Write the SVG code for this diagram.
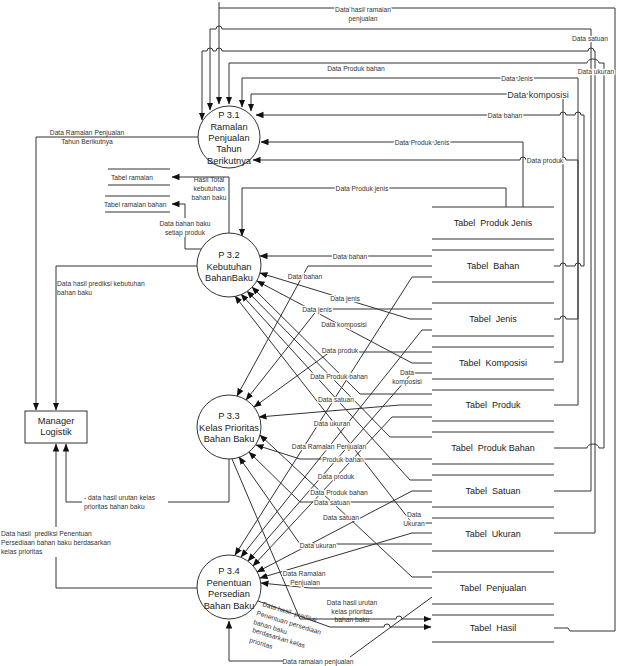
<svg xmlns="http://www.w3.org/2000/svg" width="624" height="666" viewBox="0 0 624 666">
<defs>
<marker id="ar" markerWidth="8" markerHeight="8" refX="7.5" refY="4" orient="auto" markerUnits="userSpaceOnUse"><path d="M0,0.8 L8,4 L0,7.2 z" fill="#111"/></marker>
</defs>
<style>
.l{fill:none;stroke:#333;stroke-width:1}
.a{marker-end:url(#ar)}
.t{font-family:"Liberation Sans",Arial,sans-serif;font-size:6.7px;fill:#333;text-anchor:middle}
.s{text-anchor:start}
.h{stroke:#fff;stroke-width:2.5;paint-order:stroke;stroke-linejoin:round}
.p{font-family:"Liberation Sans",Arial,sans-serif;font-size:9.3px;fill:#222;text-anchor:middle}
.tb{font-family:"Liberation Sans",Arial,sans-serif;font-size:9px;fill:#222;text-anchor:middle;white-space:pre}
.c{fill:#fff;stroke:#333;stroke-width:1}
.st{fill:none;stroke:#333;stroke-width:1}
</style>
<rect width="624" height="666" fill="#fff"/>
<g id="connectors">
<path class="l" d="M219,2 V8"/>
<path class="l a" d="M554,628 H568 L570,631 H615 V8 H219 V104"/>
<path class="l a" d="M554,491 H591 V29 H222 A3,3 0 0 0 216,29 H210 V110"/>
<path class="l a" d="M554,533 H595 V51 H594 A3,3 0 0 0 588,51 H222 A3,3 0 0 0 216,51 H213 A3,3 0 0 0 207,51 H202 V120"/>
<path class="l a" d="M554,448 H587 A6,4 0 0 1 599,448 H604 V63 H599 A6,4 0 0 0 587,63 H229 V104"/>
<path class="l a" d="M554,319 H560 A3,3 0 0 1 566,319 H578 V78 H242 V107"/>
<path class="l a" d="M554,405 H578 V160 H566 A3,3 0 0 0 560,160 H526 A3,3 0 0 0 520,160 H253"/>
<path class="l a" d="M554,362 H563 V94 H251 V111"/>
<path class="l a" d="M554,266 H560 A3,3 0 0 1 566,266 H575 A3,3 0 0 1 581,266 H584 V115 H581 A3,3 0 0 0 575,115 H566 A3,3 0 0 0 560,115 H256"/>
<path class="l a" d="M523,207 V142 H261"/>
<path class="l a" d="M506,207 V188 H242 V236"/>
<path class="l a" d="M198,137 H36 V410"/>
<path class="l a" d="M197,266 H56 V410"/>
<path class="l" d="M229,459 V502 H168"/>
<path class="l a" d="M82,502 H66 V444"/>
<path class="l" d="M197,588 H56 V557"/>
<path class="l a" d="M56,527 V444"/>
<path class="l a" d="M229,233 V177 H172"/>
<path class="l" d="M201,249 H185 V237"/>
<path class="l a" d="M185,218 V204 H172"/>
<path class="l a" d="M432,256 H260"/>
<path class="l a" d="M432,319 H410 L260,273"/>
<path class="l a" d="M432,363 H412 L257,281"/>
<path class="l a" d="M432,394 H360 L252,287"/>
<path class="l a" d="M432,437 H390 L247,291"/>
<path class="l a" d="M432,480 H410 L241,294"/>
<path class="l a" d="M432,523 H412 L235,296"/>
<path class="l a" d="M432,266 H308 L237,396"/>
<path class="l a" d="M432,309 H318 L246,400"/>
<path class="l a" d="M432,352 H330 L254,407"/>
<path class="l a" d="M432,405 H400 L259,417"/>
<path class="l a" d="M432,577 H412 L260,435"/>
<path class="l a" d="M432,459 H300 L256,445"/>
<path class="l a" d="M432,502 H300 L249,452"/>
<path class="l a" d="M432,544 H300 L239,457"/>
<path class="l a" d="M432,277 H412 L235,555"/>
<path class="l a" d="M432,330 H422 L241,557"/>
<path class="l a" d="M432,373 H412 L248,561"/>
<path class="l a" d="M432,417 H392 L253,566"/>
<path class="l a" d="M432,491 H412 L257,572"/>
<path class="l a" d="M432,533 H412 L260,578"/>
<path class="l a" d="M432,588 H310 L261,583"/>
<path class="l" d="M432,597 L350,657"/>
<path class="l a" d="M283,661 H229 V621"/>
<path class="l a" d="M232,459 L300,619 H396 A3,3 0 0 1 402,619 H431"/>
<path class="l a" d="M258,601 L330,627 H384 A3,3 0 0 1 390,627 H431"/>
</g>
<g id="connector-labels">
<text class="t h" x="363" y="11.5">Data hasil ramalan</text>
<text class="t" x="363" y="20.5">penjualan</text>
<text class="t h" x="590" y="40.5">Data satuan</text>
<text class="t" x="356" y="70.5">Data Produk bahan</text>
<text class="t h" x="596" y="73.5">Data ukuran</text>
<text class="t h" x="517" y="80.5">Data Jenis</text>
<text class="t h" x="538" y="97.5" style="font-size:9px">Data komposisi</text>
<text class="t h" x="505" y="117.5">Data bahan</text>
<text class="t h" x="422" y="144.5">Data Produk Jenis</text>
<text class="t h" x="545" y="162.5">Data produk</text>
<text class="t h" x="362" y="190.5">Data Produk jenis</text>
<text class="t" x="87" y="135">Data Ramalan Penjualan</text>
<text class="t" x="87" y="144">Tahun Berikutnya</text>
<text class="t" x="209" y="181.5">Hasil Total</text>
<text class="t" x="209" y="190.5">kebutuhan</text>
<text class="t" x="209" y="199.5">bahan baku</text>
<text class="t" x="185" y="225.5">Data bahan baku</text>
<text class="t" x="185" y="234.5">setiap produk</text>
<text class="t s" x="57" y="285.5">Data hasil prediksi kebutuhan</text>
<text class="t s" x="57" y="294.5">bahan baku</text>
<text class="t s" x="84" y="499.5">- data hasil urutan kelas</text>
<text class="t s" x="84" y="508.5">prioritas bahan baku</text>
<text class="t s" x="1" y="535.5" style="white-space:pre">Data hasil  prediksi Penentuan</text>
<text class="t s" x="1" y="544.5">Persediaan bahan baku berdasarkan</text>
<text class="t s" x="1" y="553.5">kelas prioritas</text>
<text class="t h" x="350" y="258.5">Data bahan</text>
<text class="t h" x="305" y="278.5">Data bahan</text>
<text class="t h" x="345" y="300.5">Data jenis</text>
<text class="t h" x="317" y="311.5">Data jenis</text>
<text class="t h" x="344" y="326.5">Data komposisi</text>
<text class="t h" x="340" y="352.5">Data produk</text>
<text class="t h" x="339" y="378.5">Data Produk bahan</text>
<text class="t h" x="407" y="374.5">Data</text>
<text class="t h" x="407" y="383.5">komposisi</text>
<text class="t h" x="336" y="401.5">Data satuan</text>
<text class="t h" x="332" y="425.5">Data ukuran</text>
<text class="t h" x="329" y="448.5">Data Ramalan Penjualan</text>
<text class="t h" x="343" y="461.5">Produk bahan</text>
<text class="t h" x="336" y="478.5">Data produk</text>
<text class="t h" x="339" y="494.5">Data Produk bahan</text>
<text class="t h" x="332" y="504.5">Data satuan</text>
<text class="t h" x="341" y="519.5">Data satuan</text>
<text class="t h" x="414" y="516.5">Data</text>
<text class="t h" x="414" y="525.5">Ukuran</text>
<text class="t h" x="318" y="547.5">Data ukuran</text>
<text class="t h" x="304" y="575.5">Data Ramalan</text>
<text class="t h" x="305" y="584.5">Penjualan</text>
<text class="t" x="352" y="604.5">Data hasil urutan</text>
<text class="t" x="352" y="613.5">kelas prioritas</text>
<text class="t" x="352" y="621.5">bahan baku</text>
<text class="t" x="318" y="663.5">Data ramalan penjualan</text>
<text class="t s" x="262" y="606" transform="rotate(17 262 606)" style="white-space:pre">Data hasil  prediksi</text>
<text class="t s" x="256" y="615" transform="rotate(17 256 615)">Penentuan persediaan</text>
<text class="t s" x="253" y="624" transform="rotate(17 253 624)">bahan baku</text>
<text class="t s" x="252" y="632" transform="rotate(17 252 632)">berdasarkan kelas</text>
<text class="t s" x="249" y="642" transform="rotate(17 249 642)">prioritas</text>
</g>
<g id="p31"><circle class="c" cx="229" cy="137" r="31"/>
<text class="p" x="229" y="118">P 3.1</text><text class="p" x="229" y="130">Ramalan</text><text class="p" x="229" y="141">Penjualan</text><text class="p" x="229" y="152">Tahun</text><text class="p" x="229" y="164">Berikutnya</text></g>
<g id="p32"><circle class="c" cx="229" cy="265" r="32"/>
<text class="p" x="229" y="258">P 3.2</text><text class="p" x="229" y="270">Kebutuhan</text><text class="p" x="229" y="281">BahanBaku</text></g>
<g id="p33"><circle class="c" cx="229" cy="427" r="32"/>
<text class="p" x="229" y="419">P 3.3</text><text class="p" x="229" y="431">Kelas Prioritas</text><text class="p" x="229" y="442">Bahan Baku</text></g>
<g id="p34"><circle class="c" cx="229" cy="587" r="32"/>
<text class="p" x="229" y="574">P 3.4</text><text class="p" x="229" y="586">Penentuan</text><text class="p" x="229" y="597">Persedian</text><text class="p" x="229" y="609">Bahan Baku</text></g>
<g id="manager-logistik"><rect x="25" y="411" width="62" height="32" fill="#fff" stroke="#333"/>
<text class="p" x="56" y="424">Manager</text><text class="p" x="56" y="435">Logistik</text></g>
<g id="tabel-ramalan"><path class="st" d="M108,169 H170 M108,185 H170"/><text class="t s" x="111" y="179.5">Tabel ramalan</text></g>
<g id="tabel-ramalan-bahan"><path class="st" d="M105,196 H170 M105,212 H170"/><text class="t s" x="104" y="206.5">Tabel ramalan bahan</text></g>
<g id="tabel-produk-jenis"><path class="st" d="M432,207 H554 M432,239 H554"/><text class="tb" x="493" y="226">Tabel  Produk Jenis</text></g>
<g id="tabel-bahan"><path class="st" d="M432,250 H554 M432,282 H554"/><text class="tb" x="493" y="269">Tabel  Bahan</text></g>
<g id="tabel-jenis"><path class="st" d="M432,303 H554 M432,336 H554"/><text class="tb" x="493" y="322">Tabel  Jenis</text></g>
<g id="tabel-komposisi"><path class="st" d="M432,347 H554 M432,379 H554"/><text class="tb" x="493" y="366">Tabel  Komposisi</text></g>
<g id="tabel-produk"><path class="st" d="M432,390 H554 M432,421 H554"/><text class="tb" x="493" y="408">Tabel  Produk</text></g>
<g id="tabel-produk-bahan"><path class="st" d="M432,432 H554 M432,464 H554"/><text class="tb" x="493" y="451">Tabel  Produk Bahan</text></g>
<g id="tabel-satuan"><path class="st" d="M432,475 H554 M432,507 H554"/><text class="tb" x="493" y="494">Tabel  Satuan</text></g>
<g id="tabel-ukuran"><path class="st" d="M432,518 H554 M432,551 H554"/><text class="tb" x="493" y="537">Tabel  Ukuran</text></g>
<g id="tabel-penjualan"><path class="st" d="M432,572 H554 M432,604 H554"/><text class="tb" x="493" y="591">Tabel  Penjualan</text></g>
<g id="tabel-hasil"><path class="st" d="M432,615 H554 M432,642 H554"/><text class="tb" x="493" y="631">Tabel  Hasil</text></g>
</svg>
